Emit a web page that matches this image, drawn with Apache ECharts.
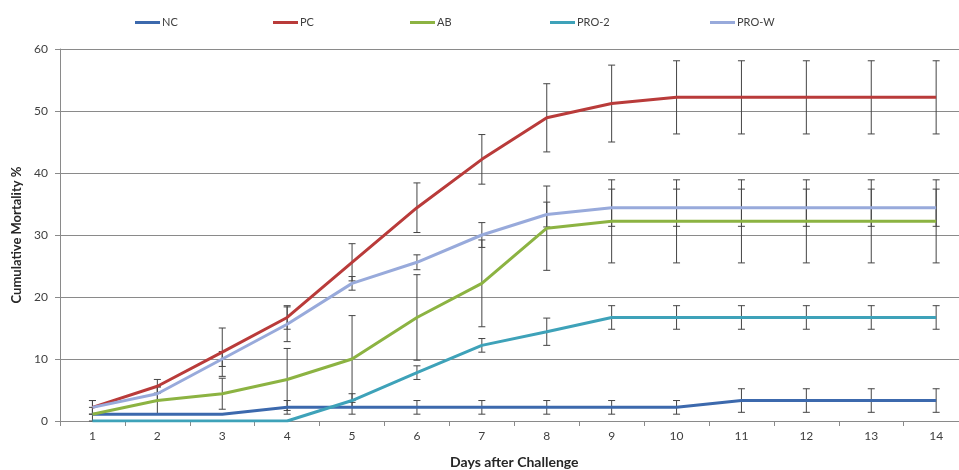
<!DOCTYPE html>
<html>
<head>
<meta charset="utf-8">
<script src="https://cdn.jsdelivr.net/npm/echarts@6/dist/echarts.min.js"></script>
<style>html,body{margin:0;padding:0;background:#fff;}#chart{width:959px;height:470px;}</style>
</head>
<body>
<div id="chart"></div>
<script>
const days = ['1','2','3','4','5','6','7','8','9','10','11','12','13','14'];
const seriesNames = ['NC','PC','AB','PRO-2','PRO-W'];
const ncValues  = [1.1, 1.1, 1.1, 2.2, 2.2, 2.2, 2.2, 2.2, 2.2, 2.2, 3.3, 3.3, 3.3, 3.3];
const ncErrors  = [0, 0, 0, 1.1, 1.1, 1.1, 1.1, 1.1, 1.1, 1.1, 1.9, 1.9, 1.9, 1.9];
const pcValues  = [2.2, 5.6, 11.1, 16.7, 25.6, 34.4, 42.2, 48.9, 51.2, 52.2, 52.2, 52.2, 52.2, 52.2];
const pcErrors  = [1.1, 1.1, 3.9, 1.9, 3.0, 4.0, 4.0, 5.5, 6.2, 5.9, 5.9, 5.9, 5.9, 5.9];
const abValues  = [1.1, 3.3, 4.4, 6.7, 10.0, 16.7, 22.2, 31.1, 32.2, 32.2, 32.2, 32.2, 32.2, 32.2];
const abErrors  = [1.1, 2.2, 2.5, 5.0, 7.0, 6.9, 7.0, 6.8, 6.7, 6.7, 6.7, 6.7, 6.7, 6.7];
const pro2Values = [0, 0, 0, 0, 3.3, 7.8, 12.2, 14.4, 16.7, 16.7, 16.7, 16.7, 16.7, 16.7];
const pro2Errors = [0, 0, 0, 0, 1.1, 1.1, 1.1, 2.2, 1.9, 1.9, 1.9, 1.9, 1.9, 1.9];
const prowValues = [2.2, 4.4, 10.0, 15.6, 22.2, 25.6, 30.0, 33.3, 34.4, 34.4, 34.4, 34.4, 34.4, 34.4];
const prowErrors = [1.1, 1.1, 1.2, 2.8, 1.1, 1.2, 2.0, 2.0, 3.0, 3.0, 3.0, 3.0, 3.0, 3.0];
const yTicks = [0, 10, 20, 30, 40, 50, 60];

const colors = ['#3c69ad', '#b93b3a', '#8cb342', '#3ea2b9', '#98aadb'];
const allValues = [ncValues, pcValues, abValues, pro2Values, prowValues];
const allErrors = [ncErrors, pcErrors, abErrors, pro2Errors, prowErrors];
const legendLefts = [130, 268, 405, 545, 705];
const FONT = 'Lato, "Open Sans", sans-serif';

function errData(vals, errs) {
  const out = [];
  vals.forEach((v, i) => { if (errs[i] > 0) out.push([i, v - errs[i], v + errs[i]]); });
  return out;
}

function renderErr(params, api) {
  const x = api.value(0);
  const lo = api.coord([x, api.value(1)]);
  const hi = api.coord([x, api.value(2)]);
  const w = 3.5;
  const st = { stroke: '#454545', lineWidth: 1 };
  return {
    type: 'group',
    children: [
      { type: 'line', shape: { x1: lo[0], y1: lo[1], x2: hi[0], y2: hi[1] }, style: st },
      { type: 'line', shape: { x1: lo[0] - w, y1: lo[1], x2: lo[0] + w, y2: lo[1] }, style: st },
      { type: 'line', shape: { x1: hi[0] - w, y1: hi[1], x2: hi[0] + w, y2: hi[1] }, style: st }
    ]
  };
}

const series = [];
seriesNames.forEach((name, k) => {
  series.push({
    name: name + '-err',
    type: 'custom',
    renderItem: renderErr,
    data: errData(allValues[k], allErrors[k]),
    encode: { x: 0, y: [1, 2] },
    z: 1,
    silent: true
  });
});
seriesNames.forEach((name, k) => {
  series.push({
    name: name,
    type: 'line',
    data: allValues[k],
    symbol: 'none',
    lineStyle: { width: 3, color: colors[k] },
    itemStyle: { color: colors[k] },
    z: 3 + k
  });
});

const legends = seriesNames.map((name, k) => ({
  data: [name],
  left: legendLefts[k],
  top: 12,
  icon: 'rect',
  itemWidth: 25,
  itemHeight: 3,
  itemGap: 4,
  selectedMode: false,
  textStyle: { fontFamily: FONT, fontSize: 11, color: '#404040', padding: [0, 0, 0, -3] }
}));

const chart = echarts.init(document.getElementById('chart'), null, { renderer: 'canvas' });
chart.setOption({
  animation: false,
  color: colors,
  legend: legends,
  grid: { left: 60, right: -9.6, top: 49, bottom: 49, containLabel: false, outerBoundsMode: 'none' },
  xAxis: {
    type: 'category',
    data: days,
    boundaryGap: true,
    name: 'Days after Challenge',
    nameLocation: 'middle',
    nameGap: 34,
    nameTextStyle: { fontFamily: FONT, fontSize: 14, fontWeight: 'bold', color: '#262626' },
    axisLine: { lineStyle: { color: '#8a8a8a', width: 1 } },
    axisTick: { show: true, length: 5, lineStyle: { color: '#8a8a8a' } },
    axisLabel: { fontFamily: FONT, fontSize: 12, color: '#404040', margin: 9 },
    splitLine: { show: false }
  },
  yAxis: {
    type: 'value',
    min: yTicks[0],
    max: yTicks[yTicks.length - 1],
    interval: 10,
    name: 'Cumulative Mortality %',
    nameLocation: 'middle',
    nameGap: 36,
    nameRotate: 90,
    nameTextStyle: { fontFamily: FONT, fontSize: 13, fontWeight: 'bold', color: '#262626' },
    axisLine: { show: true, lineStyle: { color: '#8a8a8a', width: 1 } },
    axisTick: { show: true, length: 5, lineStyle: { color: '#8a8a8a' } },
    axisLabel: { fontFamily: FONT, fontSize: 12, color: '#404040', margin: 12 },
    splitLine: { show: true, lineStyle: { color: '#8a8a8a', width: 1 } }
  },
  series: series
});
</script>
</body>
</html>
